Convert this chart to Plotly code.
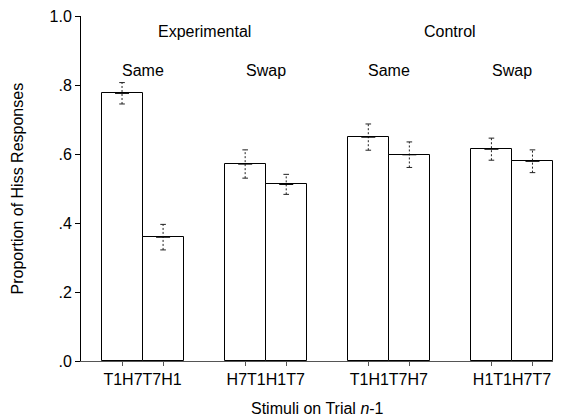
import plotly.graph_objects as go

# Data
conditions = ["T1H7T7H1", "H7T1H1T7", "T1H1T7H7", "H1T1H7T7"]
bar_positions = [1, 2, 4, 5, 7, 8, 10, 11]
group_centers = [1.5, 4.5, 7.5, 10.5]
values = [0.776, 0.359, 0.571, 0.512, 0.649, 0.598, 0.614, 0.579]
errors = [0.031, 0.037, 0.041, 0.029, 0.038, 0.037, 0.032, 0.033]
subgroup_labels = ["Same", "Swap", "Same", "Swap"]
group_labels = ["Experimental", "Control"]
group_label_x = [3.0, 9.0]
y_ticks = [0, 0.2, 0.4, 0.6, 0.8, 1.0]
y_tick_text = [".0", ".2", ".4", ".6", ".8", "1.0"]

FONT = "Liberation Sans, Arial, sans-serif"
FS = 16

fig = go.Figure()
fig.add_trace(go.Bar(
    x=bar_positions, y=values, width=1,
    marker=dict(color="white", line=dict(color="black", width=1)),
    showlegend=False, hoverinfo="skip",
))

# Dashed error bars
ex, ey = [], []
for xp, v, e in zip(bar_positions, values, errors):
    ex += [xp, xp, None]
    ey += [v - e, v + e, None]
fig.add_trace(go.Scatter(x=ex, y=ey, mode="lines",
                         line=dict(color="#222", width=1, dash="2px,2px"),
                         showlegend=False, hoverinfo="skip"))
# caps
cx, cy = [], []
for xp, v, e in zip(bar_positions, values, errors):
    cx += [xp, xp]
    cy += [v - e, v + e]
fig.add_trace(go.Scatter(x=cx, y=cy, mode="markers",
                         marker=dict(symbol="line-ew", size=4, line=dict(color="#222", width=1)),
                         showlegend=False, hoverinfo="skip"))
# cross at mean
fig.add_trace(go.Scatter(x=bar_positions, y=values, mode="markers",
                         marker=dict(symbol="line-ew", size=10, line=dict(color="black", width=1.2)),
                         showlegend=False, hoverinfo="skip"))

for xc, lab in zip(group_centers, subgroup_labels):
    fig.add_annotation(x=xc, y=0.843, text=lab, showarrow=False,
                       font=dict(size=FS, color="black", family=FONT))
for xc, lab in zip(group_label_x, group_labels):
    fig.add_annotation(x=xc, y=0.956, text=lab, showarrow=False,
                       font=dict(size=FS, color="black", family=FONT))

# axis titles
fig.add_annotation(xref="paper", yref="paper", x=0, y=0.5, xshift=-64,
                   text="Proportion of Hiss Responses", textangle=-90, showarrow=False,
                   xanchor="center", yanchor="middle",
                   font=dict(size=FS, color="black", family=FONT))
fig.add_annotation(xref="paper", yref="paper", x=0.5, y=0, yshift=-47,
                   text="Stimuli on Trial <i>n</i>-1", showarrow=False,
                   xanchor="center", yanchor="middle",
                   font=dict(size=FS, color="black", family=FONT))

fig.update_layout(
    width=566, height=418,
    margin=dict(l=81, r=13, t=16, b=57),
    plot_bgcolor="white", paper_bgcolor="white",
    font=dict(family=FONT, size=FS, color="black"),
    bargap=0,
    xaxis=dict(
        range=[0, 11.5], showgrid=False, zeroline=False, automargin=False,
        showline=True, linecolor="#555", linewidth=1,
        tickmode="array", tickvals=group_centers, ticktext=conditions,
        ticks="outside", ticklen=4, tickcolor="rgba(0,0,0,0)",
        minor=dict(tickvals=bar_positions, ticks="outside", ticklen=4, tickcolor="#555"),
        tickfont=dict(size=FS),
    ),
    yaxis=dict(
        range=[0, 1.0], showgrid=False, zeroline=False, automargin=False,
        showline=True, linecolor="black", linewidth=1,
        tickmode="array", tickvals=y_ticks, ticktext=y_tick_text,
        ticks="outside", ticklen=5, tickcolor="black",
        tickfont=dict(size=FS),
    ),
)

fig.write_html("out.html", config={"displayModeBar": False},
               post_script="document.body.style.margin='0';document.body.style.overflow='hidden';")
